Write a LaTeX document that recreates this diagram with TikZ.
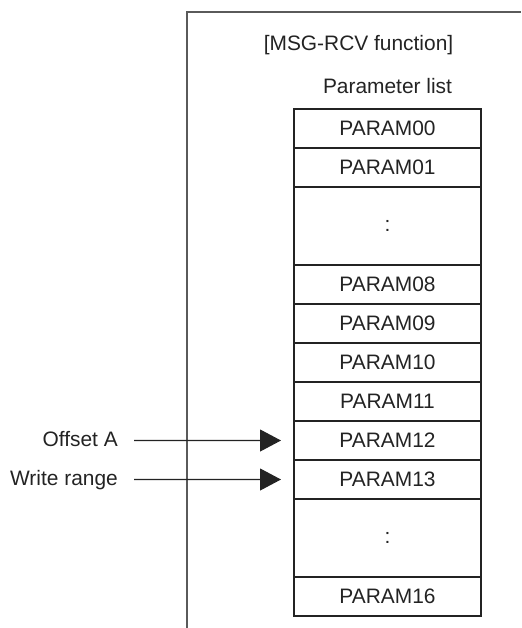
\documentclass[tikz,border=0pt]{standalone}
\usepackage{fontspec}
\setmainfont{Liberation Sans}
\usetikzlibrary{arrows.meta, positioning}
\usepackage{xcolor}
\definecolor{marco}{RGB}{90,90,90}
\definecolor{linea}{RGB}{35,35,35}

\begin{document}
\begin{tikzpicture}[
  node distance=0pt,
  celda/.style={rectangle, draw=linea, line width=0.8pt, minimum width=3.74cm, minimum height=0.78cm, inner sep=0pt, outer sep=0pt, align=center, font=\fontsize{11.9}{14}\selectfont, text=linea},
  hueco/.style={celda, minimum height=1.56cm},
  etiqueta/.style={font=\fontsize{11.9}{14}\selectfont, text=linea, text height=1.6ex, text depth=0.4ex},
  flecha/.style={-{Triangle[length=0.42cm, width=0.44cm]}, line width=0.6pt, color=linea}
]
  \useasboundingbox (0,0) rectangle (10.42,-12.56);

  % Marco de la funcion
  \coordinate (marcoabajo) at (3.74,-12.56);
  \coordinate (marcoesq) at (3.74,-0.24);
  \coordinate (marcoder) at (10.42,-0.24);
  \draw[marco, line width=0.8pt] (marcoabajo) -- (marcoesq) -- (marcoder);

  \node[etiqueta] (titulo) at (7.17,-0.9) {[MSG-RCV function]};
  \node[etiqueta] (lista) at (7.75,-1.76) {Parameter list};

  % Lista de parametros
  \node[celda, anchor=north] (p00) at (7.75,-2.18) {PARAM00};
  \node[celda, below=of p00] (p01) {PARAM01};
  \node[hueco, below=of p01] (d1) {:};
  \node[celda, below=of d1] (p08) {PARAM08};
  \node[celda, below=of p08] (p09) {PARAM09};
  \node[celda, below=of p09] (p10) {PARAM10};
  \node[celda, below=of p10] (p11) {PARAM11};
  \node[celda, below=of p11] (p12) {PARAM12};
  \node[celda, below=of p12] (p13) {PARAM13};
  \node[hueco, below=of p13] (d2) {:};
  \node[celda, below=of d2] (p16) {PARAM16};

  % Punteros
  \node[etiqueta, anchor=east] (offset) at (2.48,-8.81) {Offset A};
  \node[etiqueta, anchor=east] (rango) at (2.48,-9.59) {Write range};
  \draw[flecha] ([xshift=0.2cm]offset.east) -- ([xshift=-0.26cm]p12.west);
  \draw[flecha] ([xshift=0.2cm]rango.east) -- ([xshift=-0.26cm]p13.west);

\end{tikzpicture}
\end{document}
